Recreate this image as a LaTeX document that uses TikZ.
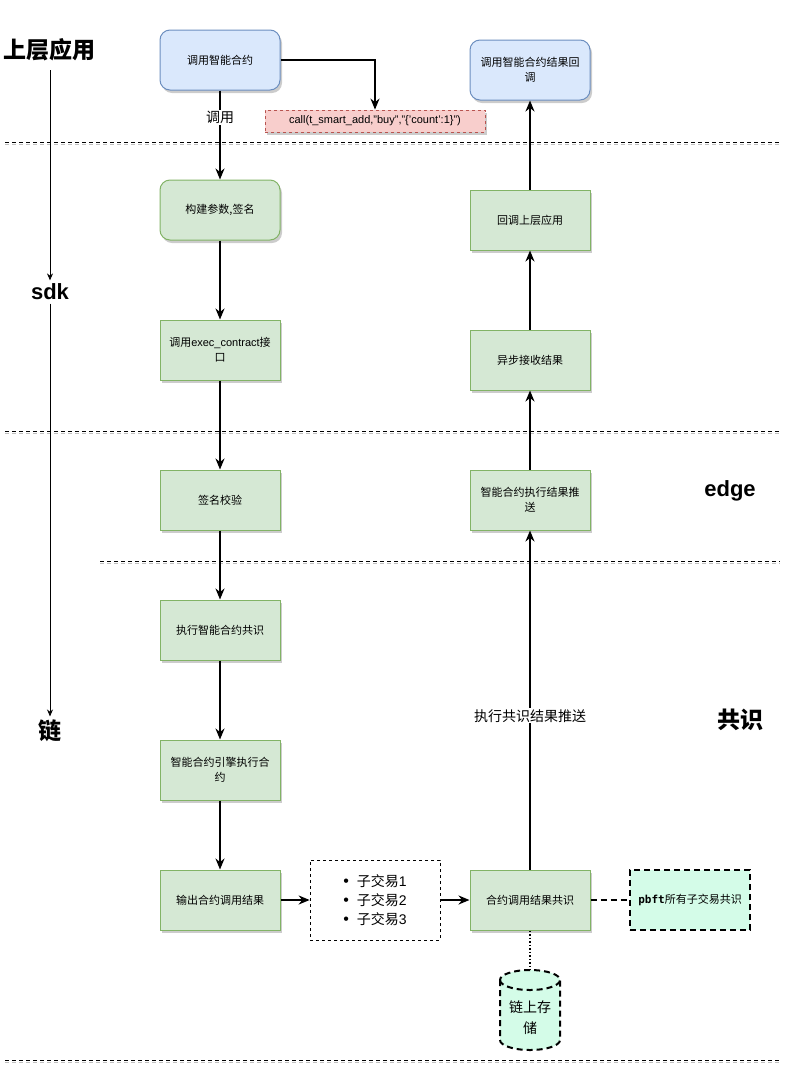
\documentclass[tikz,border=0pt]{standalone}
\usepackage{fontspec}
\setmainfont{Liberation Sans}
\newfontfamily\cjk{Noto Sans CJK SC}
\newfontfamily\monob{DejaVu Sans Mono}
\newfontfamily\lsans{Liberation Sans}
\usetikzlibrary{arrows.meta,shadows,positioning}
\definecolor{bluefill}{HTML}{DAE8FC}
\definecolor{bluedraw}{HTML}{6C8EBF}
\definecolor{greenfill}{HTML}{D5E8D4}
\definecolor{greendraw}{HTML}{82B366}
\definecolor{redfill}{HTML}{F8CECC}
\definecolor{reddraw}{HTML}{B85450}
\definecolor{mint}{HTML}{D4FCE8}
\newcommand{\mybul}{{\lsans\fontsize{16}{19}\selectfont\textbullet}\hspace{8pt}}
\tikzset{
  shad/.style={drop shadow={shadow xshift=2pt,shadow yshift=-3pt,opacity=0.2,fill=black}},
  gbox/.style={draw=greendraw,fill=greenfill,line width=1pt,minimum width=120pt,minimum height=60pt,
    align=center,font=\cjk\fontsize{11}{15}\selectfont,inner sep=2pt,shad},
  bbox/.style={gbox,draw=bluedraw,fill=bluefill,rounded corners=10pt},
  rgbox/.style={gbox,rounded corners=10pt},
  arr/.style={line width=2pt,-{Stealth[length=11pt,width=9pt]}},
  thinarr/.style={line width=0.8pt,-{Stealth[length=7pt,width=6pt]}},
  sep/.style={line width=0.8pt,dash pattern=on 4pt off 3pt},
  sepsh/.style={line width=0.8pt,dash pattern=on 4pt off 3pt,black!25},
  lane/.style={font=\bfseries\fontsize{22}{26}\selectfont},
  lanecjk/.style={font=\cjk\bfseries\fontsize{23}{27}\selectfont},
  lbl/.style={fill=white,font=\cjk\fontsize{14}{17}\selectfont,inner sep=1pt},
}
\begin{document}
\begin{tikzpicture}[x=1pt,y=-1pt]
\useasboundingbox (0,0) rectangle (794,1066);
% separators
\foreach \xa/\yy in {5/142,5/431,100/561,5/1060}{
  \draw[sepsh] (\xa,\yy+2.5) -- (780,\yy+2.5);
  \draw[sep] (\xa,\yy) -- (780,\yy);
}
% lane labels
\node[lanecjk] (lApp) at (50,50) {上层应用};
\node[lane] (lSdk) at (50,292) {sdk};
\node[lanecjk] (lChain) at (50,731) {链};
\node[lane] (lEdge) at (730,491) {edge};
\node[lanecjk] (lCons) at (740,720) {共识};
\draw[thinarr] (lApp.south |- 0,70) -- (lSdk.north);
\draw[thinarr] (lSdk.south) -- (lChain.north);
% left column
\node[bbox] (b1) at (220,60) {调用智能合约};
\node[rgbox] (b2) at (220,210) {构建参数,签名};
\node[gbox] (b3) at (220,350) {调用{\lsans exec\_contract}接\\口};
\node[gbox] (b4) at (220,500) {签名校验};
\node[gbox] (b5) at (220,630) {执行智能合约共识};
\node[gbox] (b6) at (220,770) {智能合约引擎执行合\\约};
\node[gbox] (b7) at (220,900) {输出合约调用结果};
% call label
\node[draw=reddraw,fill=redfill,dashed,line width=0.8pt,minimum width=220pt,minimum height=22pt,
  font=\fontsize{11}{13}\selectfont,inner sep=2pt,shad] (call) at (375,121) {call(t\_smart\_add,"buy","\{'count':1\}")};
% list box
\node[draw,dashed,line width=0.7pt,fill=white,minimum width=130pt,minimum height=80pt,align=left,
  font=\cjk\fontsize{14}{19}\selectfont] (list) at (375,900)
  {\mybul 子交易{\lsans 1}\\\mybul 子交易{\lsans 2}\\\mybul 子交易{\lsans 3}};
% right column
\node[gbox] (b8) at (530,900) {合约调用结果共识};
\node[gbox] (r1) at (530,500) {智能合约执行结果推\\送};
\node[gbox] (r2) at (530,360) {异步接收结果};
\node[gbox] (r3) at (530,220) {回调上层应用};
\node[bbox] (r4) at (530,70) {调用智能合约结果回\\调};
% pbft
\node[draw,fill=mint,line width=2pt,dash pattern=on 6pt off 4pt,minimum width=120pt,minimum height=60pt,
  font=\cjk\fontsize{11}{15}\selectfont,inner sep=2pt] (pbft) at (690,900) {{\monob\bfseries pbft}所有子交易共识};
% cylinder
\begin{scope}[line width=2pt,dash pattern=on 6pt off 4pt]
\filldraw[fill=mint] (500,980) -- (500,1040) arc[start angle=180,end angle=0,x radius=30,y radius=10]
  -- (560,980) arc[start angle=0,end angle=-180,x radius=30,y radius=10] -- cycle;
\draw (500,980) arc[start angle=180,end angle=0,x radius=30,y radius=10];
\end{scope}
\coordinate (cyltop) at (530,970);
\node[align=center,font=\cjk\fontsize{14}{21}\selectfont] (cyl) at (530,1018) {链上存\\储};
% connectors
\draw[arr] (b1) -- node[lbl,pos=0.3] {调用} (b2);
\draw[arr] (b1.east) -| (call.north);
\draw[arr] (b2) -- (b3);
\draw[arr] (b3) -- (b4);
\draw[arr] (b4) -- (b5);
\draw[arr] (b5) -- (b6);
\draw[arr] (b6) -- (b7);
\draw[arr] (b7) -- (list);
\draw[arr] (list) -- (b8);
\draw[arr] (b8) -- node[lbl,pos=0.453] {执行共识结果推送} (r1);
\draw[arr] (r1) -- (r2);
\draw[arr] (r2) -- (r3);
\draw[arr] (r3) -- (r4);
\draw[line width=1.5pt,dash pattern=on 6pt off 4pt] (b8) -- (pbft);
\draw[line width=1.5pt,dotted] (b8) -- (cyltop);
\end{tikzpicture}
\end{document}
